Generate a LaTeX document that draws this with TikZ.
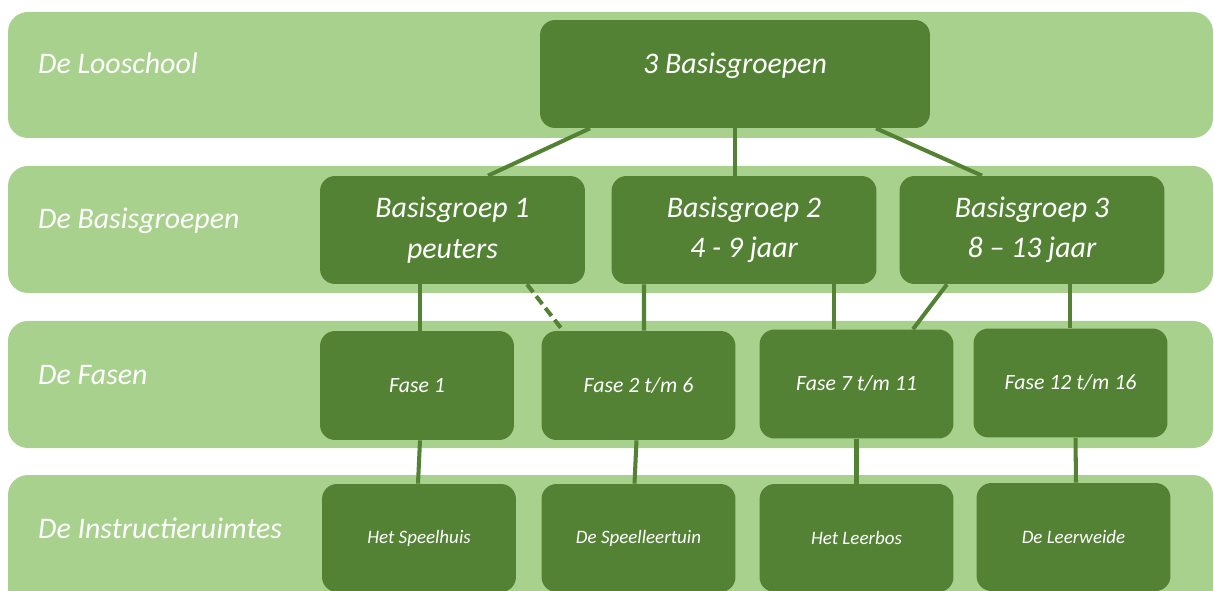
\documentclass[tikz,border=0pt]{standalone}
\usepackage{fontspec}
\setmainfont{Carlito}
\usetikzlibrary{calc,positioning}
\definecolor{lichtgroen}{HTML}{A9D18E}
\definecolor{donkergroen}{HTML}{548235}

\begin{document}
\begin{tikzpicture}
[x=0.02cm,y=-0.02cm,
band/.style = {fill=lichtgroen, rounded corners=4mm},
blok/.style = {fill=donkergroen, rounded corners=3mm, inner sep=0pt, text=white, align=center,
  font=\itshape\fontsize{17}{23}\selectfont, minimum width=5.3cm, minimum height=2.16cm},
fase/.style = {blok, minimum width=3.88cm, minimum height=2.18cm, font=\itshape\fontsize{12.4}{15}\selectfont},
ruimte/.style = {fase, minimum height=2.16cm, font=\itshape\fontsize{10.8}{13}\selectfont},
laag/.style = {anchor=base west, text=white, font=\itshape\fontsize{17}{20}\selectfont},
lijn/.style = {draw=donkergroen, line width=2.3pt},]
\clip (0,0) rectangle (1214,591);

% de vier lagen
\fill[band] (8,12) rectangle (1213,138);
\fill[band] (8,166) rectangle (1213,293);
\fill[band] (8,321) rectangle (1213,448);
\fill[band] (8,475) rectangle (1213,640);

\node (looschool) at (32,74)[laag] {De Looschool};
\node (basisgroepen) at (32,229)[laag] {De Basisgroepen};
\node (fasen) at (32,384)[laag] {De Fasen};
\node (instructie) at (32,538)[laag] {De Instructieruimtes};

% blokken
\node (top) at (735,74)[blok, minimum width=7.8cm] {};
\node (toptekst) at (735,74)[text=white, anchor=base, font=\itshape\fontsize{17}{20}\selectfont] {3 Basisgroepen};

\node (bg1) at (452.5,230)[blok] {Basisgroep 1\\peuters};
\node (bg2) at (744,230)[blok] {Basisgroep 2\\4 - 9 jaar};
\node (bg3) at (1032,230)[blok] {Basisgroep 3\\8 -- 13 jaar};

\node (f1) at (417,385.5)[fase] {Fase 1};
\node (f2) at (638.5,385.5)[fase] {Fase 2 t/m 6};
\node (f7) at (856.5,384)[fase] {Fase 7 t/m 11};
\node (f12) at (1070.5,383)[fase] {Fase 12 t/m 16};

\node (r1) at (419,538)[ruimte] {Het Speelhuis};
\node (r2) at (638.5,538)[ruimte] {De Speelleertuin};
\node (r3) at (856.5,538)[ruimte] {Het Leerbos};
\node (r4) at (1073.5,537)[ruimte] {De Leerweide};

% verbindingen
\draw[lijn] ($(top.south)+(-145,0)$)--($(bg1.north)+(35.5,0)$);
\draw[lijn] (top.south)--($(bg2.north)+(-9,0)$);
\draw[lijn] ($(top.south)+(141,0)$)--($(bg3.north)+(-50,0)$);

\draw[lijn] ($(bg1.south)+(-32.5,0)$)--($(f1.north)+(3,0)$);
\draw[lijn, dash pattern=on 2mm off 1mm] ($(bg1.south)+(74.5,0)$)--($(f2.north)+(-75.5,0)$);
\draw[lijn] ($(bg2.south)+(-100,0)$)--($(f2.north)+(5.5,0)$);
\draw[lijn] ($(bg2.south)+(90,0)$)--($(f7.north)+(-22.5,0)$);
\draw[lijn] ($(bg3.south)+(-85,0)$)--($(f7.north)+(56.5,0)$);
\draw[lijn] ($(bg3.south)+(38,0)$)--($(f12.north)+(-0.5,0)$);

\draw[lijn] ($(f1.south)+(3,0)$)--($(r1.north)+(-1,0)$);
\draw[lijn] ($(f2.south)+(-2,0)$)--($(r2.north)+(-4,0)$);
\draw[lijn] (f7.south)--(r3.north);
\draw[lijn] ($(f12.south)+(5,0)$)--($(r4.north)+(2.5,0)$);

\end{tikzpicture}
\end{document}
